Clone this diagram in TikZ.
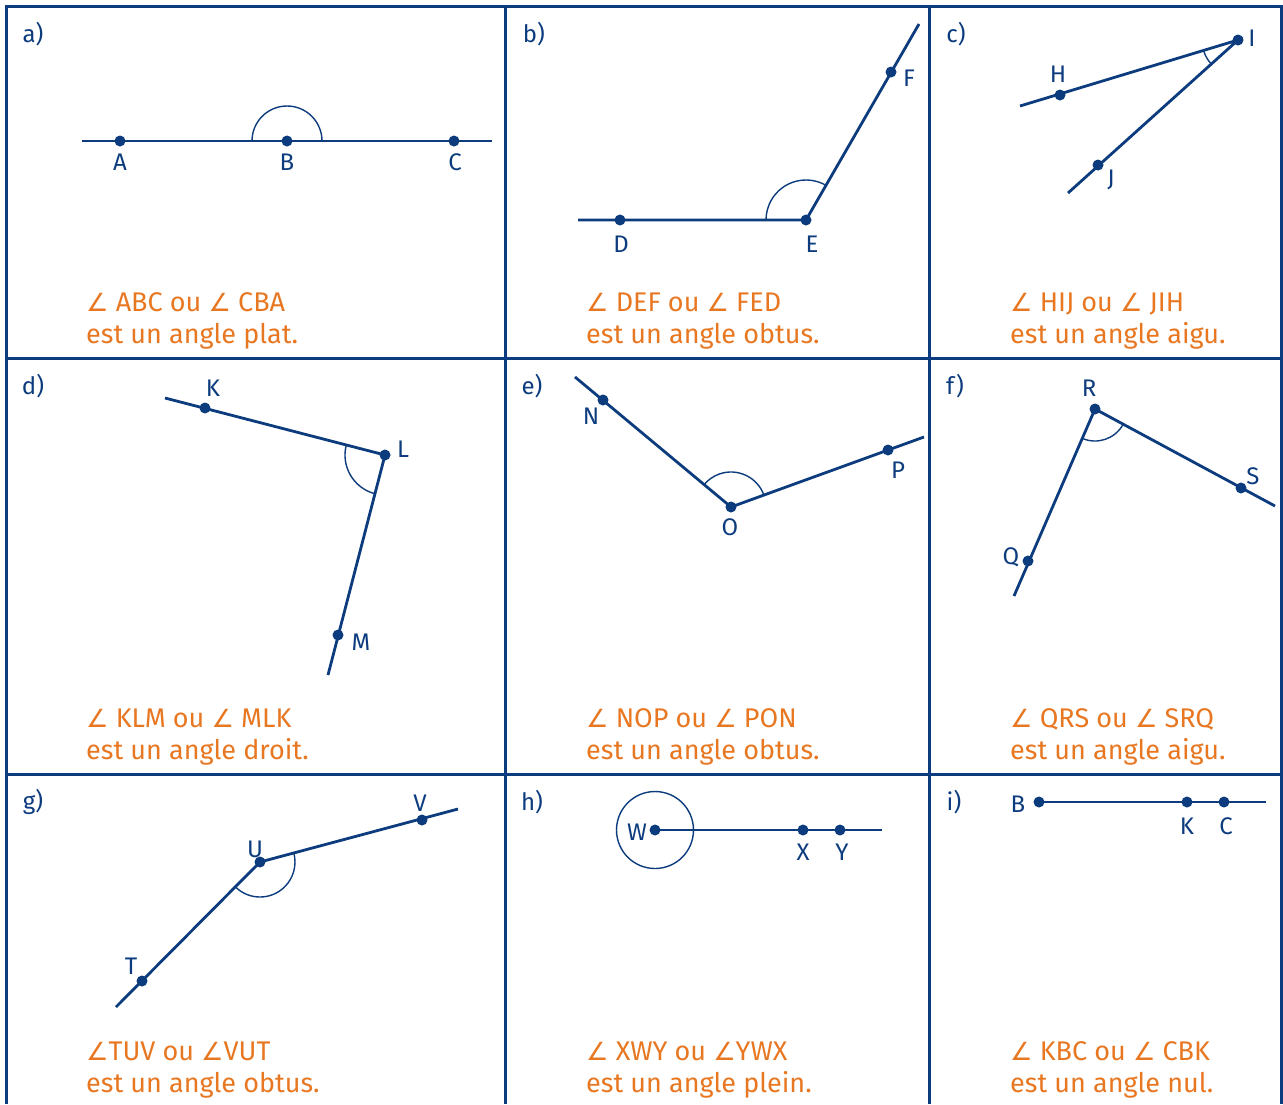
\documentclass[tikz,border=0pt]{standalone}
\usepackage{fontspec}
\setmainfont{Fira Sans}
\newfontfamily\djv{DejaVu Sans}
\usetikzlibrary{angles}
\definecolor{navy}{HTML}{0D3C7E}
\definecolor{orng}{HTML}{E87722}
\newcommand{\ang}{{\djv\fontsize{25}{32}\selectfont ∠}}
\tikzset{
  gridln/.style={navy, line width=3pt},
  ray/.style={navy, line width=2.8pt},
  thinln/.style={navy, line width=1.4pt},
  lbl/.style={navy, font=\fontsize{24}{26}\selectfont, inner sep=0pt},
  captxt/.style={text=orng, font=\fontsize{27}{32}\selectfont, anchor=base west, inner sep=0pt},
  amark/.style={draw=navy, line width=1.4pt, angle radius=#1},
}
\newcommand{\dotat}[1]{\fill[navy] (#1) circle (5.5pt);}
\begin{document}
\begin{tikzpicture}[x=1pt,y=-1pt]
\useasboundingbox (0,0) rectangle (1283,1104);
% grid
\draw[gridln] (6,1104) -- (6,6) -- (1281,6) -- (1281,1104);
\draw[gridln] (505,6) -- (505,1104);
\draw[gridln] (929,6) -- (929,1104);
\draw[gridln] (6,358) -- (1281,358);
\draw[gridln] (6,774) -- (1281,774);
% panel labels
\node[lbl] (pa) at (33,34) {a)};
\node[lbl] (pb) at (534,34) {b)};
\node[lbl] (pc) at (956,34) {c)};
\node[lbl] (pd) at (33,386) {d)};
\node[lbl] (pe) at (532,386) {e)};
\node[lbl] (pf) at (955,386) {f)};
\node[lbl] (pg) at (33,802) {g)};
\node[lbl] (ph) at (532,802) {h)};
\node[lbl] (pi) at (954,802) {i)};
% a
\coordinate (a0) at (82,141); \coordinate (a1) at (492,141);
\coordinate (A) at (120,141); \coordinate (B) at (287,141); \coordinate (C) at (454,141);
\draw[ray] (a0) -- (a1);
\pic[amark=35pt] {angle = C--B--A};
\dotat{A}\dotat{B}\dotat{C}
\node[lbl] (lA) at (120,162) {A};
\node[lbl] (lB) at (287,162) {B};
\node[lbl] (lC) at (455,162) {C};
\node[captxt] (ta1) at (86,311) {\ang\ ABC ou \ang\ CBA};
\node[captxt] (ta2) at (86,343) {est un angle plat.};
% b
\coordinate (b0) at (578,220); \coordinate (b1) at (919,24);
\coordinate (D) at (620,220); \coordinate (E) at (806,220); \coordinate (F) at (891,72);
\draw[ray] (b0) -- (E) -- (b1);
\pic[amark=40pt] {angle = F--E--D};
\dotat{D}\dotat{E}\dotat{F}
\node[lbl] (lD) at (621,244) {D};
\node[lbl] (lE) at (812,244) {E};
\node[lbl] (lF) at (909,78) {F};
\node[captxt] (tb1) at (586,311) {\ang\ DEF ou \ang\ FED};
\node[captxt] (tb2) at (586,343) {est un angle obtus.};
% c
\coordinate (c0) at (1020,106); \coordinate (c1) at (1068,193);
\coordinate (H) at (1060,95); \coordinate (I) at (1238,40); \coordinate (J) at (1098,165);
\draw[ray] (c0) -- (I) -- (c1);
\pic[amark=36pt] {angle = H--I--J};
\dotat{H}\dotat{I}\dotat{J}
\node[lbl] (lH) at (1058,74) {H};
\node[lbl] (lI) at (1252,38) {I};
\node[lbl] (lJ) at (1111,180) {J};
\node[captxt] (tc1) at (1010,311) {\ang\ HIJ ou \ang\ JIH};
\node[captxt] (tc2) at (1010,343) {est un angle aigu.};
% d
\coordinate (d0) at (165,398); \coordinate (d1) at (328,675);
\coordinate (K) at (205,408); \coordinate (L) at (385,455); \coordinate (M) at (338,635);
\draw[ray] (d0) -- (L) -- (d1);
\pic[amark=40pt] {angle = K--L--M};
\dotat{K}\dotat{L}\dotat{M}
\node[lbl] (lK) at (213,388) {K};
\node[lbl] (lL) at (403,449) {L};
\node[lbl] (lM) at (361,642) {M};
\node[captxt] (td1) at (86,727) {\ang\ KLM ou \ang\ MLK};
\node[captxt] (td2) at (86,759) {est un angle droit.};
% e
\coordinate (e0) at (575,377); \coordinate (e1) at (924,437);
\coordinate (N) at (603,400); \coordinate (O) at (731,507); \coordinate (P) at (888,450);
\draw[ray] (e0) -- (O) -- (e1);
\pic[amark=35pt] {angle = P--O--N};
\dotat{N}\dotat{O}\dotat{P}
\node[lbl] (lN) at (591,416) {N};
\node[lbl] (lO) at (730,527) {O};
\node[lbl] (lP) at (898,470) {P};
\node[captxt] (te1) at (586,727) {\ang\ NOP ou \ang\ PON};
\node[captxt] (te2) at (586,759) {est un angle obtus.};
% f
\coordinate (f0) at (1014,596); \coordinate (f1) at (1275,506);
\coordinate (Q) at (1028,561); \coordinate (R) at (1095,409); \coordinate (S) at (1241,488);
\draw[ray] (f0) -- (R) -- (f1);
\pic[amark=32pt] {angle = Q--R--S};
\dotat{Q}\dotat{R}\dotat{S}
\node[lbl] (lQ) at (1011,557) {Q};
\node[lbl] (lR) at (1089,388) {R};
\node[lbl] (lS) at (1253,476) {S};
\node[captxt] (tf1) at (1010,727) {\ang\ QRS ou \ang\ SRQ};
\node[captxt] (tf2) at (1010,759) {est un angle aigu.};
% g
\coordinate (g0) at (116,1007); \coordinate (g1) at (458,809);
\coordinate (T) at (142,981); \coordinate (U) at (260,862); \coordinate (V) at (422,820);
\draw[ray] (g0) -- (U) -- (g1);
\pic[amark=35pt] {angle = T--U--V};
\dotat{T}\dotat{U}\dotat{V}
\node[lbl] (lT) at (131,966) {T};
\node[lbl] (lU) at (255,849) {U};
\node[lbl] (lV) at (420,803) {V};
\node[captxt] (tg1) at (86,1060) {\ang TUV ou \ang VUT};
\node[captxt] (tg2) at (86,1092) {est un angle obtus.};
% h
\coordinate (h1) at (882,830);
\coordinate (W) at (655,830); \coordinate (X) at (803,830); \coordinate (Y) at (840,830);
\draw[ray] (W) -- (h1);
\draw[thinln] (W) circle (38.5pt);
\dotat{W}\dotat{X}\dotat{Y}
\node[lbl] (lW) at (637,832) {W};
\node[lbl] (lX) at (803,852) {X};
\node[lbl] (lY) at (842,852) {Y};
\node[captxt] (th1) at (586,1060) {\ang\ XWY ou \ang YWX};
\node[captxt] (th2) at (586,1092) {est un angle plein.};
% i
\coordinate (i1) at (1266,802);
\coordinate (Bi) at (1039,802); \coordinate (Ki) at (1187,802); \coordinate (Ci) at (1224,802);
\draw[ray] (Bi) -- (i1);
\dotat{Bi}\dotat{Ki}\dotat{Ci}
\node[lbl] (lBi) at (1018,804) {B};
\node[lbl] (lKi) at (1187,826) {K};
\node[lbl] (lCi) at (1226,826) {C};
\node[captxt] (ti1) at (1010,1060) {\ang\ KBC ou \ang\ CBK};
\node[captxt] (ti2) at (1010,1092) {est un angle nul.};
\end{tikzpicture}
\end{document}
